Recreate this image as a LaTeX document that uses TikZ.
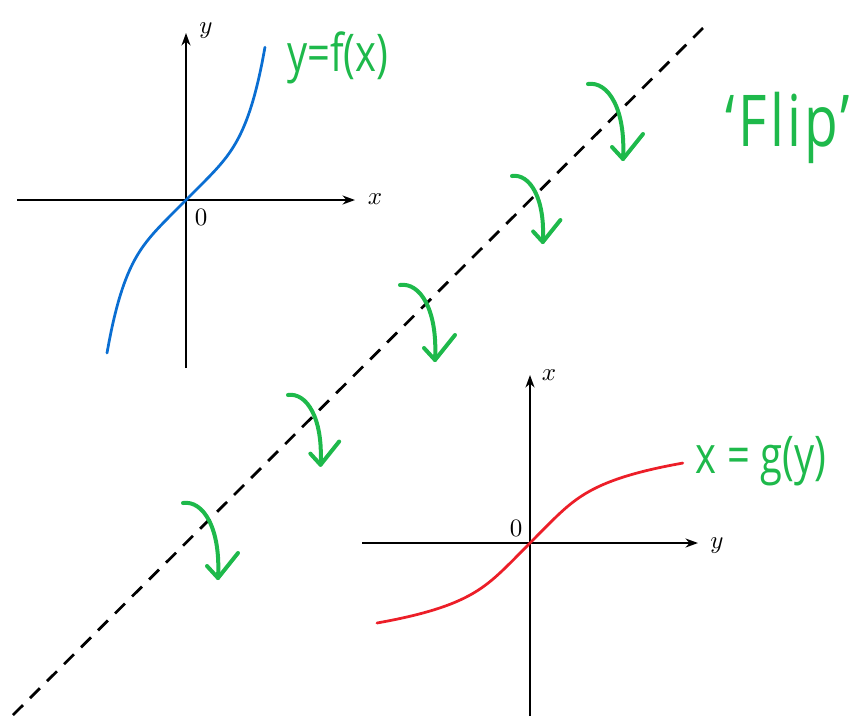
\documentclass[tikz,border=0pt]{standalone}
\usepackage{fontspec}
\usepackage{graphicx}
\newfontfamily\handfont{Open Sans}
\newfontfamily\handfontwide[LetterSpace=6]{Open Sans}
\usetikzlibrary{arrows.meta}
\definecolor{curveblue}{RGB}{10,110,210}
\definecolor{curvered}{RGB}{236,30,40}
\definecolor{handgreen}{RGB}{30,185,75}
\tikzset{
  axis/.style={line width=0.8pt, -{Stealth[length=5pt,width=3.6pt]}},
  mirror/.style={line width=1.1pt, dash pattern=on 5.6pt off 4pt},
  greenstroke/.style={handgreen, line width=1.6pt, line cap=round, line join=round},
  handtext/.style={text=handgreen, inner sep=0pt},
  axlabel/.style={inner sep=0pt},
  fliparrow/.pic={
    \draw[greenstroke] (0,0) .. controls (20,-3) and (38,25) .. (35,75);
    \draw[greenstroke] (24,63) -- (35,75) -- (55,50);
  }
}
\begin{document}
\begin{tikzpicture}[x=0.4pt,y=-0.4pt]
\useasboundingbox (0,0) rectangle (866,716);

% mirror line
\coordinate (m1) at (13,715);
\coordinate (m2) at (703,28);
\draw[mirror] (m1) -- (m2);

% top-left graph
\coordinate (o1) at (186,200);
\coordinate (xl1) at (17,200);
\coordinate (xr1) at (355,200);
\coordinate (yb1) at (186,368);
\coordinate (yt1) at (186,33);
\draw[axis] (xl1) -- (xr1);
\draw[axis] (yb1) -- (yt1);
\node[axlabel] (lx1) at (375,199) {$x$};
\node[axlabel] (ly1) at (206,31) {$y$};
\node[axlabel] (l01) at (201,217) {$0$};
\draw[curveblue, line width=1.1pt, line cap=round]
  plot[domain=-1:1, samples=60, smooth, variable=\u]
  ({186+79*\u},{200-(79*\u+74*\u*\u*\u*\u*\u)});

% bottom-right graph
\coordinate (o2) at (530,543);
\coordinate (xl2) at (362,543);
\coordinate (xr2) at (698,543);
\coordinate (yb2) at (530,716);
\coordinate (yt2) at (530,375);
\draw[axis] (xl2) -- (xr2);
\draw[axis] (yb2) -- (yt2);
\node[axlabel] (lx2) at (549,375) {$x$};
\node[axlabel] (ly2) at (717,546) {$y$};
\node[axlabel] (l02) at (516,528) {$0$};
\draw[curvered, line width=1.1pt, line cap=round]
  plot[domain=-1:1, samples=60, smooth, variable=\u]
  ({530+(79*\u+74*\u*\u*\u*\u*\u)},{543-80*\u});

% handwritten labels
\node[handtext] (tf) at (338,58)
  {\scalebox{1}[1.3]{\handfont\fontsize{16}{16}\selectfont y=f(x)}};
\node[handtext] (tg) at (761,461)
  {\scalebox{1}[1.3]{\handfont\fontsize{16}{16}\selectfont x = g(y)}};
\node[handtext] (tflip) at (788,128)
  {\scalebox{1}[1.3]{\handfontwide\fontsize{22}{22}\selectfont ‘Flip’}};

% flip arrows
\pic at (588,84) {fliparrow};
\pic[scale=0.88] at (512,176) {fliparrow};
\pic at (400,285) {fliparrow};
\pic[scale=0.93] at (288,395) {fliparrow};
\pic at (183,503) {fliparrow};
\end{tikzpicture}
\end{document}
